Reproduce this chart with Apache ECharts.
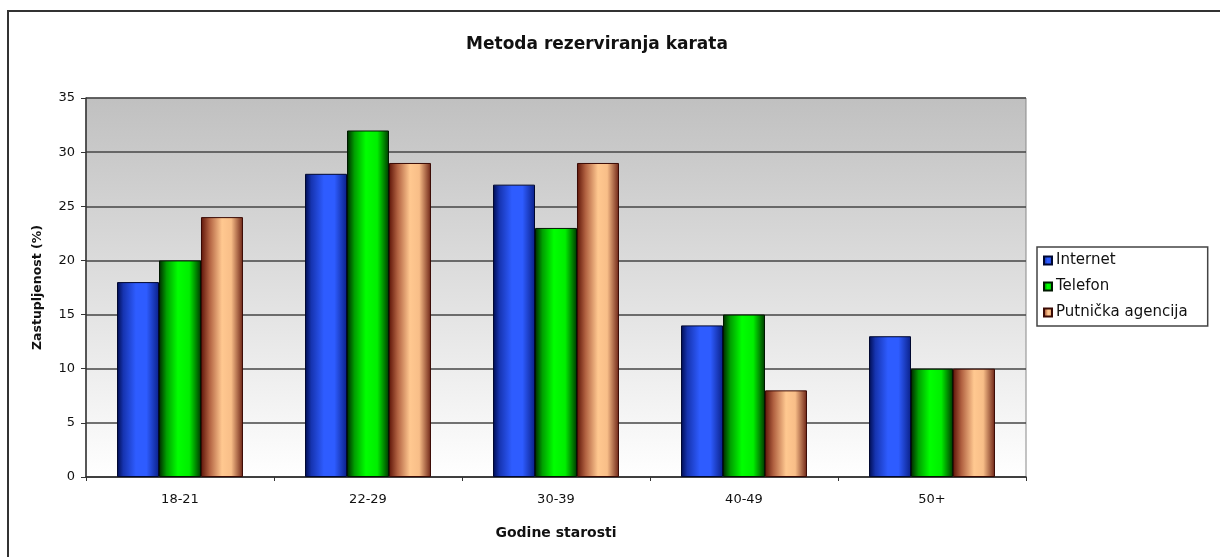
<!DOCTYPE html>
<html>
<head>
<meta charset="utf-8">
<script src="https://cdn.jsdelivr.net/npm/echarts@6/dist/echarts.min.js"></script>
<style>html,body{margin:0;padding:0;background:#fff}#c{width:1220px;height:557px}</style>
</head>
<body>
<div id="c"></div>
<script>
const categories = ['18-21', '22-29', '30-39', '40-49', '50+'];
const internet = [18, 28, 27, 14, 13];
const telefon = [20, 32, 23, 15, 10];
const agencija = [24, 29, 29, 8, 10];
const seriesNames = ['Internet', 'Telefon', 'Putnička agencija'];

function grad(stops) {
  return new echarts.graphic.LinearGradient(0, 0, 1, 0, stops.map(s => ({offset: s[0], color: s[1]})));
}
const blueG = grad([[0,'#000c50'],[0.15,'#1634b0'],[0.45,'#2e5cff'],[0.7,'#2e5cff'],[1,'#0a2088']]);
const greenG = grad([[0,'#002800'],[0.18,'#00a000'],[0.45,'#00ff00'],[0.72,'#00ee00'],[1,'#003800']]);
const peachG = grad([[0,'#5e1408'],[0.2,'#b06040'],[0.5,'#ffc890'],[0.72,'#f8be88'],[1,'#6e2416']]);

const chart = echarts.init(document.getElementById('c'));
const bar = (name, data, color, border) => ({
  name, type: 'bar', data, barGap: '0%', barCategoryGap: '33%',
  itemStyle: {color, borderColor: border, borderWidth: 1},
  emphasis: {disabled: true}
});
chart.setOption({
  animation: false,
  backgroundColor: '#ffffff',
  title: {
    text: 'Metoda rezerviranja karata',
    left: 592, top: 31, textAlign: 'center',
    textStyle: {fontFamily: 'DejaVu Sans', fontWeight: 'bold', fontSize: 17, color: '#111'}
  },
  graphic: [{
    type: 'rect', z: -1, silent: true,
    shape: {x: 8, y: 11, width: 1400, height: 700},
    style: {fill: 'none', stroke: '#333', lineWidth: 2}
  }],
  legend: {
    orient: 'vertical', left: 1037, top: 247,
    padding: [6, 20, 6, 6],
    borderColor: '#444', borderWidth: 1.5,
    backgroundColor: '#fff',
    itemWidth: 8, itemHeight: 8, itemGap: 11,
    icon: 'rect',
    textStyle: {fontFamily: 'DejaVu Sans', fontSize: 15, color: '#111', padding: [0,0,0,-1]},
    data: seriesNames
  },
  grid: {
    left: 86, right: 194, top: 98, bottom: 80,
    show: true, borderColor: '#888', borderWidth: 1,
    backgroundColor: new echarts.graphic.LinearGradient(0, 0, 0, 1, [
      {offset: 0, color: '#c0c0c0'}, {offset: 1, color: '#ffffff'}
    ])
  },
  xAxis: {
    type: 'category', data: categories,
    name: 'Godine starosti', nameLocation: 'middle', nameGap: 49,
    nameTextStyle: {fontFamily: 'DejaVu Sans', fontWeight: 'bold', fontSize: 14, color: '#111'},
    axisLine: {lineStyle: {color: '#333', width: 1.5}},
    axisTick: {show: true, length: 4, lineStyle: {color: '#333'}},
    axisLabel: {fontFamily: 'DejaVu Sans', fontSize: 13, color: '#111', margin: 16}
  },
  yAxis: {
    type: 'value', min: 0, max: 35, interval: 5,
    name: 'Zastupljenost (%)', nameLocation: 'middle', nameGap: 42,
    nameTextStyle: {fontFamily: 'DejaVu Sans', fontWeight: 'bold', fontSize: 12.5, color: '#111'},
    axisLine: {show: true, lineStyle: {color: '#333', width: 1.5}},
    axisTick: {show: true, length: 5, lineStyle: {color: '#333'}},
    axisLabel: {fontFamily: 'DejaVu Sans', fontSize: 13, color: '#111', margin: 11},
    splitLine: {lineStyle: {color: '#444', width: 1.5}}
  },
  series: [
    bar(seriesNames[0], internet, blueG, '#000830'),
    bar(seriesNames[1], telefon, greenG, '#001800'),
    bar(seriesNames[2], agencija, peachG, '#3a0a04')
  ]
});
</script>
</body>
</html>
